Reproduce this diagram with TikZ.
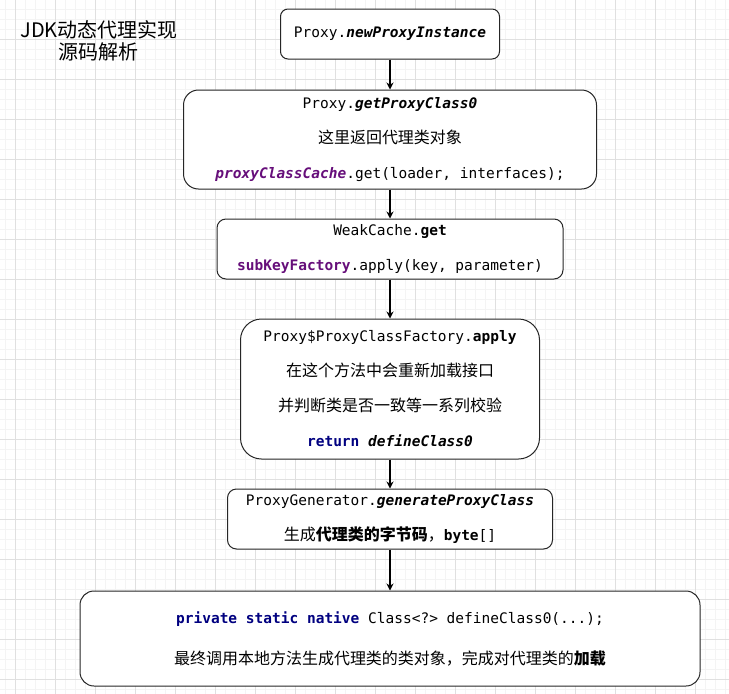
\documentclass[tikz,border=0pt]{standalone}
\usepackage{fontspec}
\usepackage{tikz}
\usetikzlibrary{arrows.meta}
\newfontfamily\cjk{Noto Sans CJK SC}
\newfontfamily\codefont{DejaVu Sans Mono}
\newcommand\zh{\cjk\fontsize{16}{35}\selectfont}
\definecolor{fieldpurple}{HTML}{660E7A}
\definecolor{keynavy}{HTML}{000080}
\definecolor{gridminor}{HTML}{F4F4F4}
\definecolor{gridmajor}{HTML}{E0E0E0}
\tikzset{
  box/.style={draw=black!85, line width=1, fill=white, align=center, inner sep=0,
    font=\codefont\fontsize{14.5}{35}\selectfont},
  flow/.style={-{Stealth[length=7,width=7]}, line width=1.2, black}
}

\begin{document}
\begin{tikzpicture}[x=1pt,y=-1pt]
			%%%%% START %%%%%
			
			\useasboundingbox (0,0) rectangle (729,694);
			\fill[white] (0,0) rectangle (729,694);
			
			% background grid
			\foreach \gx in {5,15,...,725} \draw[gridminor, line width=0.8] (\gx,0) -- (\gx,694);
			\foreach \gy in {9,19,...,689} \draw[gridminor, line width=0.8] (0,\gy) -- (729,\gy);
			\foreach \gx in {15,55,...,695} \draw[gridmajor, line width=0.8] (\gx,0) -- (\gx,694);
			\foreach \gy in {39,79,...,679} \draw[gridmajor, line width=0.8] (0,\gy) -- (729,\gy);
			
			\node[font=\cjk\fontsize{20}{22}\selectfont, align=center] (title) at (99,41) {JDK动态代理实现\\源码解析};
			
			\node[box, minimum width=219, minimum height=50, rounded corners=7.5] (newInst) at (390,34)
				{Proxy.{\bfseries\itshape newProxyInstance}};
			
			\node[box, minimum width=413, minimum height=99, rounded corners=15] (getClass) at (390,139.5)
				{Proxy.{\bfseries\itshape getProxyClass0}\\
				 {\zh 这里返回代理类对象}\\
				 {\color{fieldpurple}\bfseries\itshape proxyClassCache}.get(loader, interfaces);};
			
			\node[box, minimum width=346, minimum height=60, rounded corners=9] (weakGet) at (390,249)
				{WeakCache.{\bfseries get}\\
				 {\color{fieldpurple}\bfseries subKeyFactory}.apply(key, parameter)};
			
			\node[box, minimum width=299, minimum height=140, rounded corners=21] (factory) at (390,389)
				{Proxy\$ProxyClassFactory.{\bfseries apply}\\
				 {\zh 在这个方法中会重新加载接口}\\
				 {\zh 并判断类是否一致等一系列校验}\\
				 {\color{keynavy}\bfseries return} {\bfseries\itshape defineClass0}};
			
			\node[box, minimum width=325, minimum height=60, rounded corners=9] (genClass) at (390,519)
				{ProxyGenerator.{\bfseries\itshape generateProxyClass}\\
				 {\zh 生成{\bfseries 代理类的字节码}，}{\bfseries byte}[]};
			
			\node[box, minimum width=620, minimum height=95, rounded corners=14,
				font=\codefont\fontsize{14.5}{41}\selectfont] (define) at (390,638.5)
				{{\color{keynavy}\bfseries private static native} Class<?> defineClass0(...);\\
				 {\cjk\fontsize{16}{41}\selectfont 最终调用本地方法生成代理类的类对象，完成对代理类的{\bfseries 加载}}};
			
			\draw[flow] (newInst) -- (getClass);
			\draw[flow] (getClass) -- (weakGet);
			\draw[flow] (weakGet) -- (factory);
			\draw[flow] (factory) -- (genClass);
			\draw[flow] (genClass) -- (define);
			
			%%%%% END %%%%%
\end{tikzpicture}
\end{document}
